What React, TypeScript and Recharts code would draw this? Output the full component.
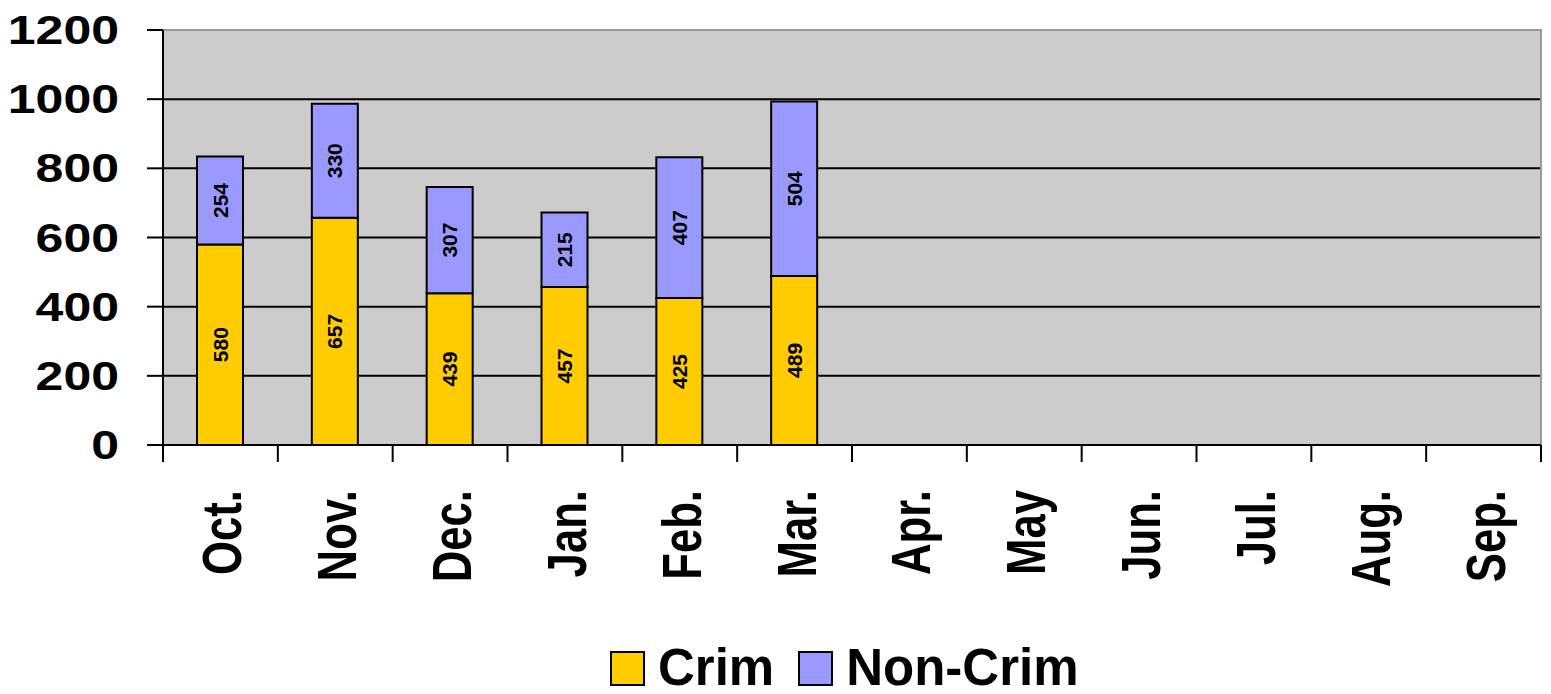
import React from "react";
import { Bar, BarChart, CartesianGrid, LabelList, ReferenceArea, XAxis, YAxis } from "recharts";

const MONTHS = ["Oct.", "Nov.", "Dec.", "Jan.", "Feb.", "Mar.", "Apr.", "May", "Jun.", "Jul.", "Aug.", "Sep."];
const CRIM = [580, 657, 439, 457, 425, 489, null, null, null, null, null, null];
const NON_CRIM = [254, 330, 307, 215, 407, 504, null, null, null, null, null, null];
const Y_TICKS = [0, 200, 400, 600, 800, 1000, 1200];
const GRID_VALUES = [200, 400, 600, 800, 1000];

const CRIM_COLOR = "#FFCC00";
const NON_CRIM_COLOR = "#9999FF";
const FONT = '"Liberation Sans", Arial, sans-serif';

const W = 1551;
const H = 694;
const LEFT = 163;
const RIGHT = 10;
const TOP = 30;
const X_AXIS_H = 249;
const BAND = (W - LEFT - RIGHT) / MONTHS.length;

const data = MONTHS.map((month, i) => ({ month, crim: CRIM[i], nonCrim: NON_CRIM[i] }));

function MonthTick(props: any) {
  const { x, y, payload, index } = props;
  const left = x - BAND / 2;
  return (
    <g>
      <line x1={left} y1={y - 8} x2={left} y2={y + 9} stroke="#000" strokeWidth={2} />
      {index === MONTHS.length - 1 && (
        <line x1={left + BAND} y1={y - 8} x2={left + BAND} y2={y + 9} stroke="#000" strokeWidth={2} />
      )}
      <text
        transform={`translate(${x + 21},${y + 37}) rotate(-90) scale(0.78,1)`}
        textAnchor="end"
        fontFamily={FONT}
        fontWeight="bold"
        fontSize={56}
        fill="#000"
      >
        {payload.value}
      </text>
    </g>
  );
}

function ValueTick(props: any) {
  const { x, y, payload } = props;
  return (
    <text
      transform={`translate(${x - 26},${y + 14}) scale(1.25,1)`}
      textAnchor="end"
      fontFamily={FONT}
      fontWeight="bold"
      fontSize={40}
      fill="#000"
    >
      {payload.value}
    </text>
  );
}

function SegmentLabel(props: any) {
  const { x, y, width, height, value } = props;
  if (value == null) return null;
  const cx = x + width / 2;
  const cy = y + height / 2;
  return (
    <text
      transform={`translate(${cx},${cy}) rotate(-90)`}
      textAnchor="middle"
      dominantBaseline="central"
      fontFamily={FONT}
      fontWeight="bold"
      fontSize={21}
      fill="#000"
    >
      {value}
    </text>
  );
}

function LegendItem({ color, label }: { color: string; label: string }) {
  return (
    <span style={{ display: "inline-flex", alignItems: "center", marginRight: 24 }}>
      <span
        style={{
          display: "inline-block",
          width: 31,
          height: 31,
          background: color,
          border: "2px solid #000",
          marginRight: 13,
        }}
      />
      <span>{label}</span>
    </span>
  );
}

export default function App() {
  return (
    <div style={{ position: "relative", width: W, height: H, background: "#fff" }}>
      <style>{"body{margin:0}"}</style>
      <BarChart
        width={W}
        height={H}
        data={data}
        margin={{ top: TOP, right: RIGHT, left: 0, bottom: 0 }}
        barSize={46}
      >
        <CartesianGrid
          fill="#CCCCCC"
          fillOpacity={1}
          vertical={false}
          stroke="#000"
          strokeWidth={2}
          horizontalValues={GRID_VALUES}
        />
        <ReferenceArea y1={0} y2={1200} fill="none" stroke="#999" strokeWidth={2} ifOverflow="visible" />
        <XAxis
          dataKey="month"
          height={X_AXIS_H}
          interval={0}
          tickLine={false}
          axisLine={{ stroke: "#000", strokeWidth: 2 }}
          tick={<MonthTick />}
        />
        <YAxis
          width={LEFT}
          domain={[0, 1200]}
          ticks={Y_TICKS}
          interval={0}
          tickSize={16}
          tickLine={{ stroke: "#000", strokeWidth: 2 }}
          axisLine={{ stroke: "#000", strokeWidth: 2 }}
          tick={<ValueTick />}
        />
        <Bar dataKey="crim" stackId="a" fill={CRIM_COLOR} stroke="#000" strokeWidth={2} isAnimationActive={false}>
          <LabelList dataKey="crim" content={<SegmentLabel />} />
        </Bar>
        <Bar dataKey="nonCrim" stackId="a" fill={NON_CRIM_COLOR} stroke="#000" strokeWidth={2} isAnimationActive={false}>
          <LabelList dataKey="nonCrim" content={<SegmentLabel />} />
        </Bar>
      </BarChart>
      <div
        style={{
          position: "absolute",
          left: 610,
          top: 648,
          height: 40,
          fontFamily: FONT,
          fontWeight: "bold",
          fontSize: 51,
          lineHeight: "40px",
          whiteSpace: "nowrap",
          display: "flex",
          alignItems: "center",
        }}
      >
        <LegendItem color={CRIM_COLOR} label="Crim" />
        <LegendItem color={NON_CRIM_COLOR} label="Non-Crim" />
      </div>
    </div>
  );
}
